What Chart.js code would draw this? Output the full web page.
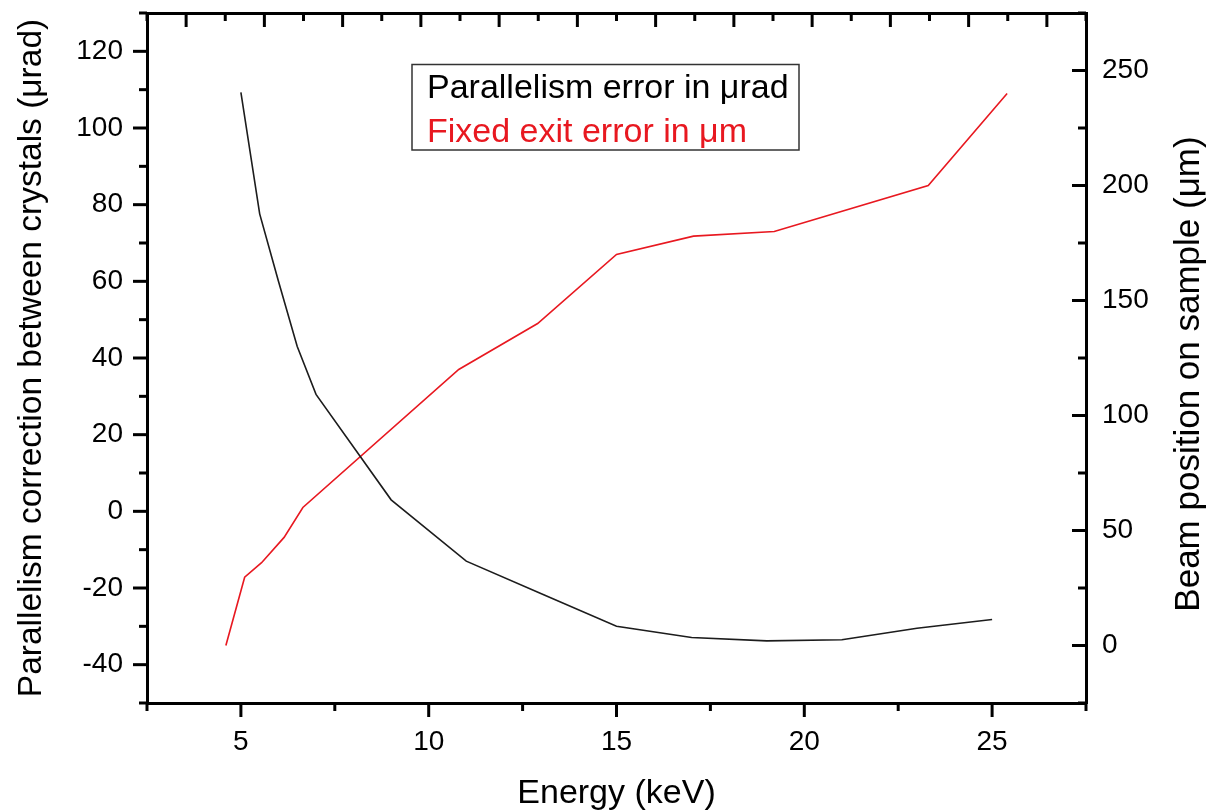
<!DOCTYPE html>
<html>
<head>
<meta charset="utf-8">
<script src="https://cdn.jsdelivr.net/npm/chart.js"></script>
<style>
  body { margin: 0; background: #fff; }
  canvas { display: block; }
</style>
</head>
<body>
<canvas id="grafica" width="1210" height="811"></canvas>
<script>
// Parallelism error (left axis, µrad)
const energiaParal = [5, 5.5, 6, 6.5, 7, 9, 11, 13, 15, 17, 19, 21, 23, 25];
const errorParal = [109.3, 77.6, 60, 43, 30.5, 3, -13, -21.5, -30, -32.9, -33.8, -33.5, -30.5, -28.2];

// Fixed exit error (right axis, µm)
const energiaSalida = [4.6, 5.1, 5.55, 6.15, 6.65, 10.8, 12.9, 15.0, 17.05, 19.2, 23.3, 25.4];
const errorSalida = [0, 29.7, 36, 47, 60, 120, 140, 170, 178, 180, 200, 240];

// ticks
const xMayores = [5, 10, 15, 20, 25];
const xMenores = [2.5, 7.5, 12.5, 17.5, 22.5, 27.5];
const yMayores = [-40, -20, 0, 20, 40, 60, 80, 100, 120];
const yMenores = [-50, -30, -10, 10, 30, 50, 70, 90, 110, 130];
const y2Mayores = [0, 50, 100, 150, 200, 250];
const y2Menores = [-25, 25, 75, 125, 175, 225, 275];
const x2Mayores = [0, 2, 4, 6, 8, 10, 12, 14, 16, 18, 20, 22];
const x2Menores = [-1, 1, 3, 5, 7, 9, 11, 13, 15, 17, 19, 21, 23];

const fuente = 'Liberation Sans, Arial, sans-serif';

// dibuja las marcas de los ejes (mayores y menores)
const marcasEjes = {
  id: 'marcasEjes',
  afterDraw(chart) {
    const ctx = chart.ctx;
    const a = chart.chartArea;
    const s = chart.scales;
    ctx.save();
    ctx.strokeStyle = '#000';
    ctx.lineWidth = 3;
    const linea = (x1, y1, x2, y2) => {
      ctx.beginPath(); ctx.moveTo(x1, y1); ctx.lineTo(x2, y2); ctx.stroke();
    };
    xMayores.forEach(v => { const p = s.x.getPixelForValue(v); linea(p, a.bottom, p, a.bottom + 14); });
    xMenores.forEach(v => { const p = s.x.getPixelForValue(v); linea(p, a.bottom, p, a.bottom + 8); });
    yMayores.forEach(v => { const p = s.y.getPixelForValue(v); linea(a.left, p, a.left - 14, p); });
    yMenores.forEach(v => { const p = s.y.getPixelForValue(v); linea(a.left, p, a.left - 8, p); });
    y2Mayores.forEach(v => { const p = s.y2.getPixelForValue(v); linea(a.right, p, a.right - 14, p); });
    y2Menores.forEach(v => { const p = s.y2.getPixelForValue(v); linea(a.right, p, a.right - 8, p); });
    x2Mayores.forEach(v => { const p = s.x2.getPixelForValue(v); linea(p, a.top, p, a.top + 14); });
    x2Menores.forEach(v => { const p = s.x2.getPixelForValue(v); linea(p, a.top, p, a.top + 8); });

    // titulo del eje derecho (leido de abajo hacia arriba)
    ctx.fillStyle = '#000';
    ctx.font = '35px ' + fuente;
    ctx.textAlign = 'center';
    ctx.textBaseline = 'middle';
    ctx.translate(1189, (a.top + a.bottom) / 2 + 16);
    ctx.rotate(-Math.PI / 2);
    ctx.fillText('Beam position on sample (\u03bcm)', 0, 0);
    ctx.restore();

    // leyenda
    ctx.save();
    ctx.strokeStyle = '#333';
    ctx.lineWidth = 1.5;
    ctx.strokeRect(412, 64.5, 387, 85.5);
    ctx.font = '34px ' + fuente;
    ctx.textAlign = 'left';
    ctx.textBaseline = 'alphabetic';
    ctx.fillStyle = '#000';
    ctx.fillText('Parallelism error in \u03bcrad', 427, 98);
    ctx.fillStyle = 'rgb(232, 24, 32)';
    ctx.fillText('Fixed exit error in \u03bcm', 427, 141.5);
    ctx.restore();
  }
};

// tamaños fijos de los ejes para que el área coincida
const fijarVertical = ancho => s => { s.width = ancho; s.paddingTop = 0; s.paddingBottom = 0; };
const fijarHorizontal = alto => s => { s.height = alto; s.paddingLeft = 0; s.paddingRight = 0; };

const ctx = document.getElementById('grafica').getContext('2d');

new Chart(ctx, {
  type: 'line',
  data: {
    datasets: [
      {
        label: 'Parallelism error in µrad',
        data: energiaParal.map((e, i) => ({ x: e, y: errorParal[i] })),
        borderColor: '#1c1c1c',
        borderWidth: 1.6,
        pointRadius: 0,
        fill: false,
        tension: 0,
        xAxisID: 'x',
        yAxisID: 'y'
      },
      {
        label: 'Fixed exit error in µm',
        data: energiaSalida.map((e, i) => ({ x: e, y: errorSalida[i] })),
        borderColor: 'rgb(232, 24, 32)',
        borderWidth: 1.6,
        pointRadius: 0,
        fill: false,
        tension: 0,
        xAxisID: 'x',
        yAxisID: 'y2'
      }
    ]
  },
  options: {
    responsive: false,
    animation: false,
    layout: { padding: 0 },
    plugins: {
      legend: { display: false },
      tooltip: { enabled: false }
    },
    scales: {
      x: {
        type: 'linear',
        position: 'bottom',
        min: 2.5,
        max: 27.5,
        afterFit: fijarHorizontal(108),
        afterBuildTicks: s => { s.ticks = xMayores.map(v => ({ value: v })); },
        grid: { display: false, drawTicks: false },
        border: { display: true, color: '#000', width: 3 },
        ticks: { color: '#000', padding: 22, maxRotation: 0, font: { family: fuente, size: 28 } },
        title: {
          display: true,
          text: 'Energy (keV)',
          color: '#000',
          padding: { top: 0, bottom: 0 },
          font: { family: fuente, size: 34, lineHeight: 1.05 }
        }
      },
      x2: {
        type: 'linear',
        position: 'top',
        min: -1,
        max: 23,
        afterFit: fijarHorizontal(13),
        grid: { display: false, drawTicks: false },
        border: { display: true, color: '#000', width: 3 },
        ticks: { display: false }
      },
      y: {
        type: 'linear',
        position: 'left',
        min: -50,
        max: 130,
        afterFit: fijarVertical(147),
        afterBuildTicks: s => { s.ticks = yMayores.map(v => ({ value: v })); },
        grid: { display: false, drawTicks: false },
        border: { display: true, color: '#000', width: 3 },
        ticks: { color: '#000', padding: 24, font: { family: fuente, size: 28 } },
        title: {
          display: true,
          text: 'Parallelism correction between crystals (\u03bcrad)',
          color: '#000',
          padding: { top: 12, bottom: 0 },
          font: { family: fuente, size: 33.5 }
        }
      },
      y2: {
        type: 'linear',
        position: 'right',
        min: -25,
        max: 275,
        afterFit: fijarVertical(124),
        afterBuildTicks: s => { s.ticks = y2Mayores.map(v => ({ value: v })); },
        grid: { display: false, drawTicks: false },
        border: { display: true, color: '#000', width: 3 },
        ticks: { color: '#000', padding: 16, font: { family: fuente, size: 28 } }
      }
    }
  },
  plugins: [marcasEjes]
});
</script>
</body>
</html>
